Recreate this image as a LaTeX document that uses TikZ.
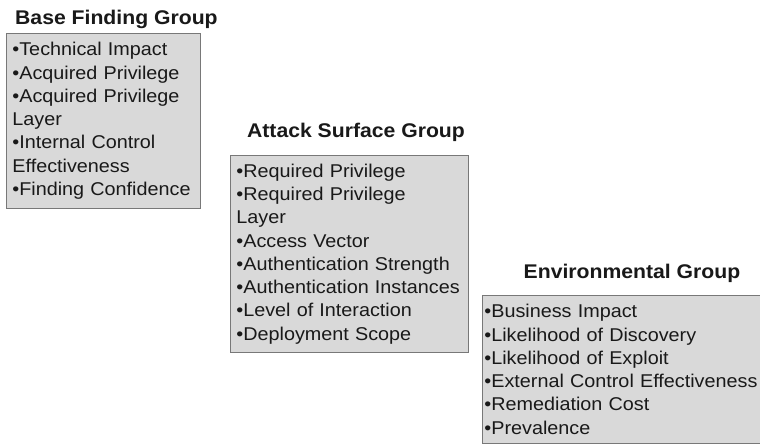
\documentclass[tikz,border=0pt]{standalone}
\usepackage{fontspec}
\setmainfont{Liberation Sans}[FakeStretch=1.07]
\usetikzlibrary{positioning}
\definecolor{boxfill}{RGB}{217,217,217}
\definecolor{boxline}{RGB}{120,120,120}
\definecolor{inkgray}{RGB}{25,25,25}
\newcommand\wholewords{\hyphenpenalty 10000 \exhyphenpenalty 10000 }

\tikzset{
  groupbox/.style={rectangle, draw=boxline, fill=boxfill, thick, anchor=north west,
    align=left, inner ysep=0pt, text=inkgray,
    font=\fontsize{18.5}{23.3}\selectfont, execute at begin node=\wholewords},
  grouptitle/.style={font=\bfseries\fontsize{19.8}{22}\selectfont, text=inkgray, inner sep=0pt}
}

\begin{document}
\begin{tikzpicture}[x=1pt,y=-1pt]
\clip (0,0) rectangle (760,446);
\fill[white] (0,0) rectangle (760,446);

% the three groups
\node[groupbox, inner xsep=6pt, text width=182pt, minimum width=194pt, minimum height=175pt] (base) at (6,33)
  {•Technical Impact\\ •Acquired Privilege\\ •Acquired Privilege\\ Layer\\ •Internal Control\\ Effectiveness\\ •Finding Confidence};
\node[groupbox, inner xsep=6pt, text width=226pt, minimum width=238pt, minimum height=197pt] (attack) at (230,155)
  {•Required Privilege\\ •Required Privilege\\ Layer\\ •Access Vector\\ •Authentication Strength\\ •Authentication Instances\\ •Level of Interaction\\ •Deployment Scope};
\node[groupbox, inner xsep=2pt, text width=296pt, minimum width=300pt, minimum height=148pt] (env) at (482,295)
  {•Business Impact\\ •Likelihood of Discovery\\ •Likelihood of Exploit\\ •External Control Effectiveness\\ •Remediation Cost\\ •Prevalence};

% titles
\node[grouptitle, anchor=west] (basetitle) at (15,19) {Base Finding Group};
\node[grouptitle] (attacktitle) at (356,132) {Attack Surface Group};
\node[grouptitle] (envtitle) at (632,273) {Environmental Group};
\end{tikzpicture}
\end{document}
